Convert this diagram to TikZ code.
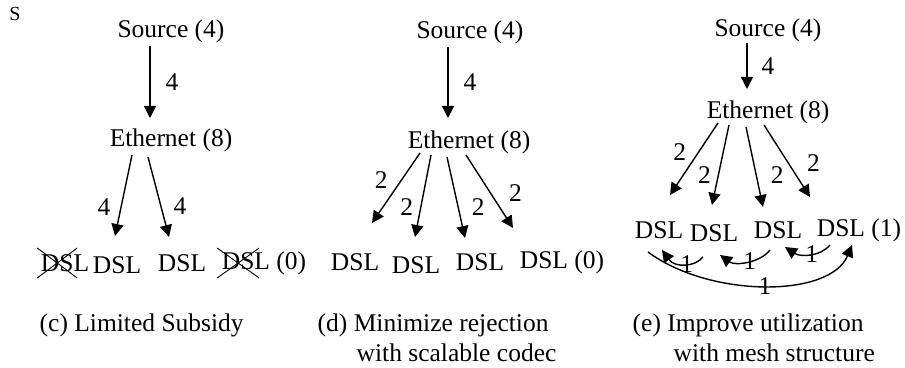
\documentclass[tikz,border=0pt]{standalone}
\usepackage{fontspec}
\setmainfont{Liberation Serif}
\usetikzlibrary{arrows.meta,calc,positioning}
\newcommand{\fs}{\fontsize{12.75}{15}\selectfont}
\tikzset{
  every picture/.style={line width=0.7pt},
  sTxt/.style={inner sep=0pt, font=\fs},
  sLbl/.style={inner sep=0pt, font=\fs},
  sCap/.style={inner sep=0pt, anchor=west, font=\fs},
  sArr/.style={-{Triangle[length=6pt,width=6pt]}},
  sCross/.style={line width=0.45pt},
}

\begin{document}
\begin{tikzpicture}[x=0.5pt, y=-0.5pt]
  \useasboundingbox (0,0) rectangle (905,368);
  \node[inner sep=0pt, font=\fontsize{10}{12}\selectfont] (cut) at (15,14) {S};
  % (c) limited subsidy
  \node[sTxt] (srcC) at (171,31) {Source (4)};
  \node[sTxt] (ethC) at (171,140) {Ethernet (8)};
  \node[sTxt] (dC1) at (65,263) {DSL};
  \node[sTxt] (dC2) at (117,265) {DSL};
  \node[sTxt] (dC3) at (182,263) {DSL};
  \node[sTxt] (dC4) at (264,263) {DSL (0)};
  \draw[sArr] ($(srcC)+(-21,15)$) -- node[sLbl, right=7.5pt] {4} ($(ethC)+(-21,-22)$);
  \draw[sArr] ($(ethC)+(-39,15)$) -- node[sLbl, pos=0.64, left=5pt] {4} ($(dC2)+(-2,-29)$);
  \draw[sArr] ($(ethC)+(-23,17)$) -- node[sLbl, pos=0.62, right=6pt] {4} ($(dC3)+(-13,-26)$);
  \draw[sCross] ($(dC1.west)+(-3,-15)$) -- ($(dC1.west)+(37,15)$);
  \draw[sCross] ($(dC1.west)+(-3,15)$) -- ($(dC1.west)+(37,-15)$);
  \draw[sCross] ($(dC4.west)+(-4,-15)$) -- ($(dC4.west)+(38,15)$);
  \draw[sCross] ($(dC4.west)+(-4,15)$) -- ($(dC4.west)+(38,-15)$);
  \node[sCap] (capC) at (39,325) {(c) Limited Subsidy};
  % (d) scalable codec
  \node[sTxt] (srcD) at (470,32) {Source (4)};
  \node[sTxt] (ethD) at (469,142) {Ethernet (8)};
  \node[sTxt] (dD1) at (355,262) {DSL};
  \node[sTxt] (dD2) at (416,265) {DSL};
  \node[sTxt] (dD3) at (480,262) {DSL};
  \node[sTxt] (dD4) at (562,262) {DSL (0)};
  \draw[sArr] ($(srcD)+(-22,15)$) -- node[sLbl, right=7.5pt] {4} ($(ethD)+(-21,-24)$);
  \draw[sArr] ($(ethD)+(-49,11)$) -- node[sLbl, pos=0.39, left=6.5pt] {2} ($(dD1)+(17,-39)$);
  \draw[sArr] ($(ethD)+(-38,13)$) -- node[sLbl, pos=0.63, left=3.5pt] {2} ($(dD2)+(-1,-28)$);
  \draw[sArr] ($(ethD)+(-22,15)$) -- node[sLbl, pos=0.62, right=6.5pt] {2} ($(dD3)+(-15,-24)$);
  \draw[sArr] ($(ethD)+(-3,13)$) -- node[sLbl, pos=0.52, right=9pt] {2} ($(dD4)+(-49,-34)$);
  \node[sCap] (capD) at (317,325) {(d) Minimize rejection};
  \node[sCap] (capD2) at (356,353) {with scalable codec};
  % (e) mesh structure
  \node[sTxt] (srcE) at (768,30) {Source (4)};
  \node[sTxt] (ethE) at (768,112) {Ethernet (8)};
  \node[sTxt] (dE1) at (659,230) {DSL};
  \node[sTxt] (dE2) at (714,233) {DSL};
  \node[sTxt] (dE3) at (778,230) {DSL};
  \node[sTxt] (dE4) at (859,230) {DSL (1)};
  \draw[sArr] ($(srcE)+(-21,13)$) -- node[sLbl, right=7pt] {4} ($(ethE)+(-21,-23)$);
  \draw[sArr] ($(ethE)+(-50,11)$) -- node[sLbl, pos=0.4, left=6pt] {2} ($(dE1)+(11,-35)$);
  \draw[sArr] ($(ethE)+(-39,13)$) -- node[sLbl, pos=0.62, left=3.5pt] {2} ($(dE2)+(-2,-28)$);
  \draw[sArr] ($(ethE)+(-22,15)$) -- node[sLbl, pos=0.6, right=7pt] {2} ($(dE3)+(-15,-23)$);
  \draw[sArr] ($(ethE)+(-4,13)$) -- node[sLbl, pos=0.53, right=9pt] {2} ($(dE4)+(-49,-33)$);
  \draw[sArr] ($(dE2)+(-11,24)$) .. controls ($(dE2)+(-19,34)$) and ($(dE1)+(16,38)$)
        .. node[sLbl, pos=0.45] {1} ($(dE1)+(3,20)$);
  \draw[sArr] ($(dE3)+(-8,20)$) .. controls ($(dE3)+(-18,33)$) and ($(dE2)+(21,33)$)
        .. node[sLbl, pos=0.45] {1} ($(dE2)+(6,22)$);
  \draw[sArr] ($(dE4)+(-29,15)$) .. controls ($(dE4)+(-39,27)$) and ($(dE3)+(22,27)$)
        .. node[sLbl, pos=0.45] {1} ($(dE3)+(7,17)$);
  \draw[sArr] ($(dE1)+(-11,22)$) .. controls ($(dE1)+(51,68)$) and ($(dE4)+(-29,68)$)
        .. node[sLbl, pos=0.5] {1} ($(dE4)+(-7,15)$);
  \node[sCap] (capE) at (632,325) {(e) Improve utilization};
  \node[sCap] (capE2) at (673,353) {with mesh structure};
\end{tikzpicture}
\end{document}
